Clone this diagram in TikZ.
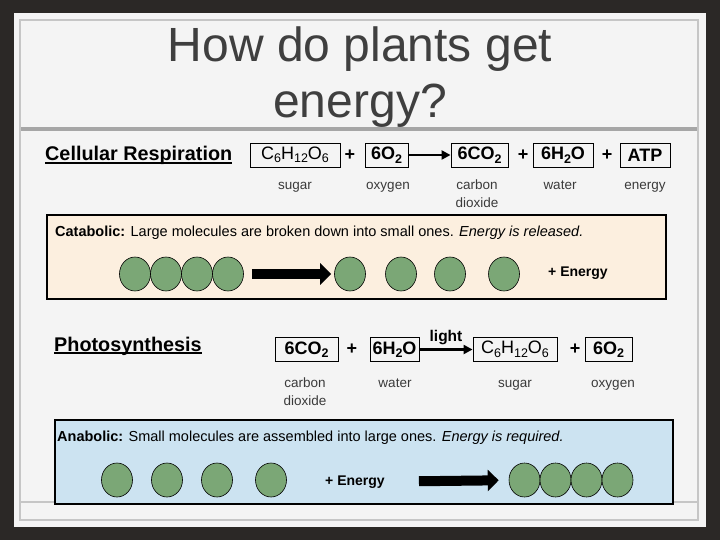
\documentclass[tikz,border=0pt]{standalone}
\usepackage{fontspec}
\setmainfont{Liberation Sans}
\usetikzlibrary{arrows.meta,shapes.geometric}

\definecolor{slidebg}{HTML}{2B2826}
\definecolor{panel}{HTML}{F4F4F4}
\definecolor{framegray}{HTML}{C6C6C6}
\definecolor{rulegray}{HTML}{A6A6A6}
\definecolor{titlegray}{HTML}{3F3F3F}
\definecolor{labelgray}{HTML}{3A3A3A}
\definecolor{catfill}{HTML}{FCEFDF}
\definecolor{anafill}{HTML}{CCE3F1}
\definecolor{blobgreen}{HTML}{7BA776}

% underlined heading with a rule just below the baseline
\newcommand{\ulined}[1]{\setbox0\hbox{#1}\rlap{\rule[-2.6bp]{\wd0}{1.7bp}}\box0}
% lowered subscript for the formulas
\newcommand{\chemsub}[1]{\raisebox{-3.5bp}{\fontsize{12.5bp}{13bp}\selectfont #1}}

\begin{document}
\begin{tikzpicture}[x=1bp,y=-1bp]
    % Define styles for boxes, labels and molecules
    \tikzstyle{title} = [text=titlegray, font=\fontsize{48bp}{56bp}\selectfont]
    \tikzstyle{heading} = [inner sep=0pt, font=\bfseries\fontsize{19.8bp}{22bp}\selectfont]
    \tikzstyle{chembox} = [draw, line width=0.9bp, inner sep=0pt, minimum height=24bp, font=\fontsize{18bp}{20bp}\selectfont]
    \tikzstyle{chembold} = [chembox, font=\bfseries\fontsize{18bp}{20bp}\selectfont]
    \tikzstyle{chemlabel} = [anchor=base, align=center, text=labelgray, font=\fontsize{13.5bp}{18bp}\selectfont]
    \tikzstyle{plussign} = [font=\bfseries\fontsize{18bp}{20bp}\selectfont]
    \tikzstyle{reaction} = [line width=2.6bp, -{Triangle[length=9bp,width=9bp]}]
    \tikzstyle{boxtext} = [anchor=west, inner sep=0pt, font=\fontsize{14.5bp}{16bp}\selectfont]
    \tikzstyle{energytext} = [inner sep=0pt, font=\bfseries\fontsize{14bp}{16bp}\selectfont]
    \tikzstyle{blob} = [draw, ellipse, line width=0.6bp, fill=blobgreen, minimum width=31bp, minimum height=34bp, inner sep=0pt]
    \tikzstyle{bigarrow} = [line width=10bp, -{Triangle[length=11bp,width=21bp]}]

    % Slide background and frame
    \fill[slidebg] (0,0) rectangle (720,540);
    \useasboundingbox (0,0) rectangle (720,540);
    \fill[panel] (13.5,13.5) rectangle (705.5,527);
    \draw[framegray, line width=2bp] (20,20) rectangle (698,520);
    \draw[rulegray, line width=4bp] (21,129) -- (697,129);
    \draw[framegray, line width=1.5bp] (21,502) -- (697,502);

    % Title
    \node[title, anchor=base] (title1) at (360,62) {How do plants get};
    \node[title, anchor=base] (title2) at (360,118) {energy?};

    % Cellular respiration
    \node[heading, anchor=base west] (respTitle) at (45,161) {\ulined{Cellular Respiration}};
    \node[chembox, minimum width=90bp] (glucR) at (295,155) {C\chemsub{6}H\chemsub{12}O\chemsub{6}};
    \node[plussign] (plusR1) at (350,155) {+};
    \node[chembold, minimum width=43bp] (oxyR) at (386.5,155) {6O\chemsub{2}};
    \node[chembold, minimum width=57bp] (co2R) at (479.5,155) {6CO\chemsub{2}};
    \node[plussign] (plusR2) at (523,155) {+};
    \node[chembold, minimum width=60bp] (waterR) at (563,155) {6H\chemsub{2}O};
    \node[plussign] (plusR3) at (607,155) {+};
    \node[chembold, minimum width=50bp] (atpR) at (645,155) {ATP};
    \draw[reaction] (oxyR) -- (co2R);

    \node[chemlabel] (sugarR) at (295,190) {sugar};
    \node[chemlabel] (oxygenR) at (388,190) {oxygen};
    \node[chemlabel] (carbonR) at (477,208) {carbon\\dioxide};
    \node[chemlabel] (waterLabR) at (560,190) {water};
    \node[chemlabel] (energyR) at (645,190) {energy};

    % Catabolic panel
    \draw[catfill, fill=catfill] (47,215) rectangle (666,299);
    \draw[line width=1.3bp] (47,215) rectangle (666,299);
    \node[boxtext] (catText) at (55,233) {\textbf{Catabolic:} Large molecules are broken down into small ones. \textit{Energy is released.}};
    \foreach \i/\x in {1/135,2/166,3/197,4/228}
        \node[blob] (catL\i) at (\x,274) {};
    \foreach \i/\x in {1/350,2/401,3/450,4/504}
        \node[blob] (catS\i) at (\x,274) {};
    \node[energytext] (catEnergy) at (578,273) {+ Energy};
    \draw[bigarrow, shorten <=8bp, shorten >=3bp] (catL4) -- (catS1);

    % Photosynthesis
    \node[heading, anchor=base west] (photoTitle) at (54,351) {\ulined{Photosynthesis}};
    \node[chembold, minimum width=63bp] (co2P) at (306.5,349.5) {6CO\chemsub{2}};
    \node[plussign] (plusP1) at (352,349.5) {+};
    \node[chembold, minimum width=49bp] (waterP) at (394.5,349.5) {6H\chemsub{2}O};
    \node[chembox, minimum width=84bp] (glucP) at (515,349.5) {C\chemsub{6}H\chemsub{12}O\chemsub{6}};
    \node[plussign] (plusP2) at (575,349.5) {+};
    \node[chembold, minimum width=47bp] (oxyP) at (608.5,349.5) {6O\chemsub{2}};
    \draw[reaction] (waterP) -- node[above=0pt, font=\bfseries\fontsize{15.5bp}{17bp}\selectfont] (lightLab) {light} (glucP);

    \node[chemlabel] (carbonP) at (305,405) {carbon\\dioxide};
    \node[chemlabel] (waterLabP) at (395,387) {water};
    \node[chemlabel] (sugarP) at (515,387) {sugar};
    \node[chemlabel] (oxygenP) at (613,387) {oxygen};

    % Anabolic panel
    \draw[anafill, fill=anafill] (55,420) rectangle (673,504);
    \draw[line width=1.3bp] (55,420) rectangle (673,504);
    \node[boxtext] (anaText) at (57,438) {\textbf{Anabolic:} Small molecules are assembled into large ones. \textit{Energy is required.}};
    \foreach \i/\x in {1/117,2/167,3/217,4/271}
        \node[blob] (anaS\i) at (\x,480) {};
    \foreach \i/\x in {1/524.5,2/555.5,3/586.5,4/617.5}
        \node[blob] (anaL\i) at (\x,480) {};
    \node[energytext] (anaEnergy) at (355,482) {+ Energy};
    \draw[bigarrow, shorten <=34bp, shorten >=10bp] (anaEnergy) -- (anaL1);
\end{tikzpicture}
\end{document}
